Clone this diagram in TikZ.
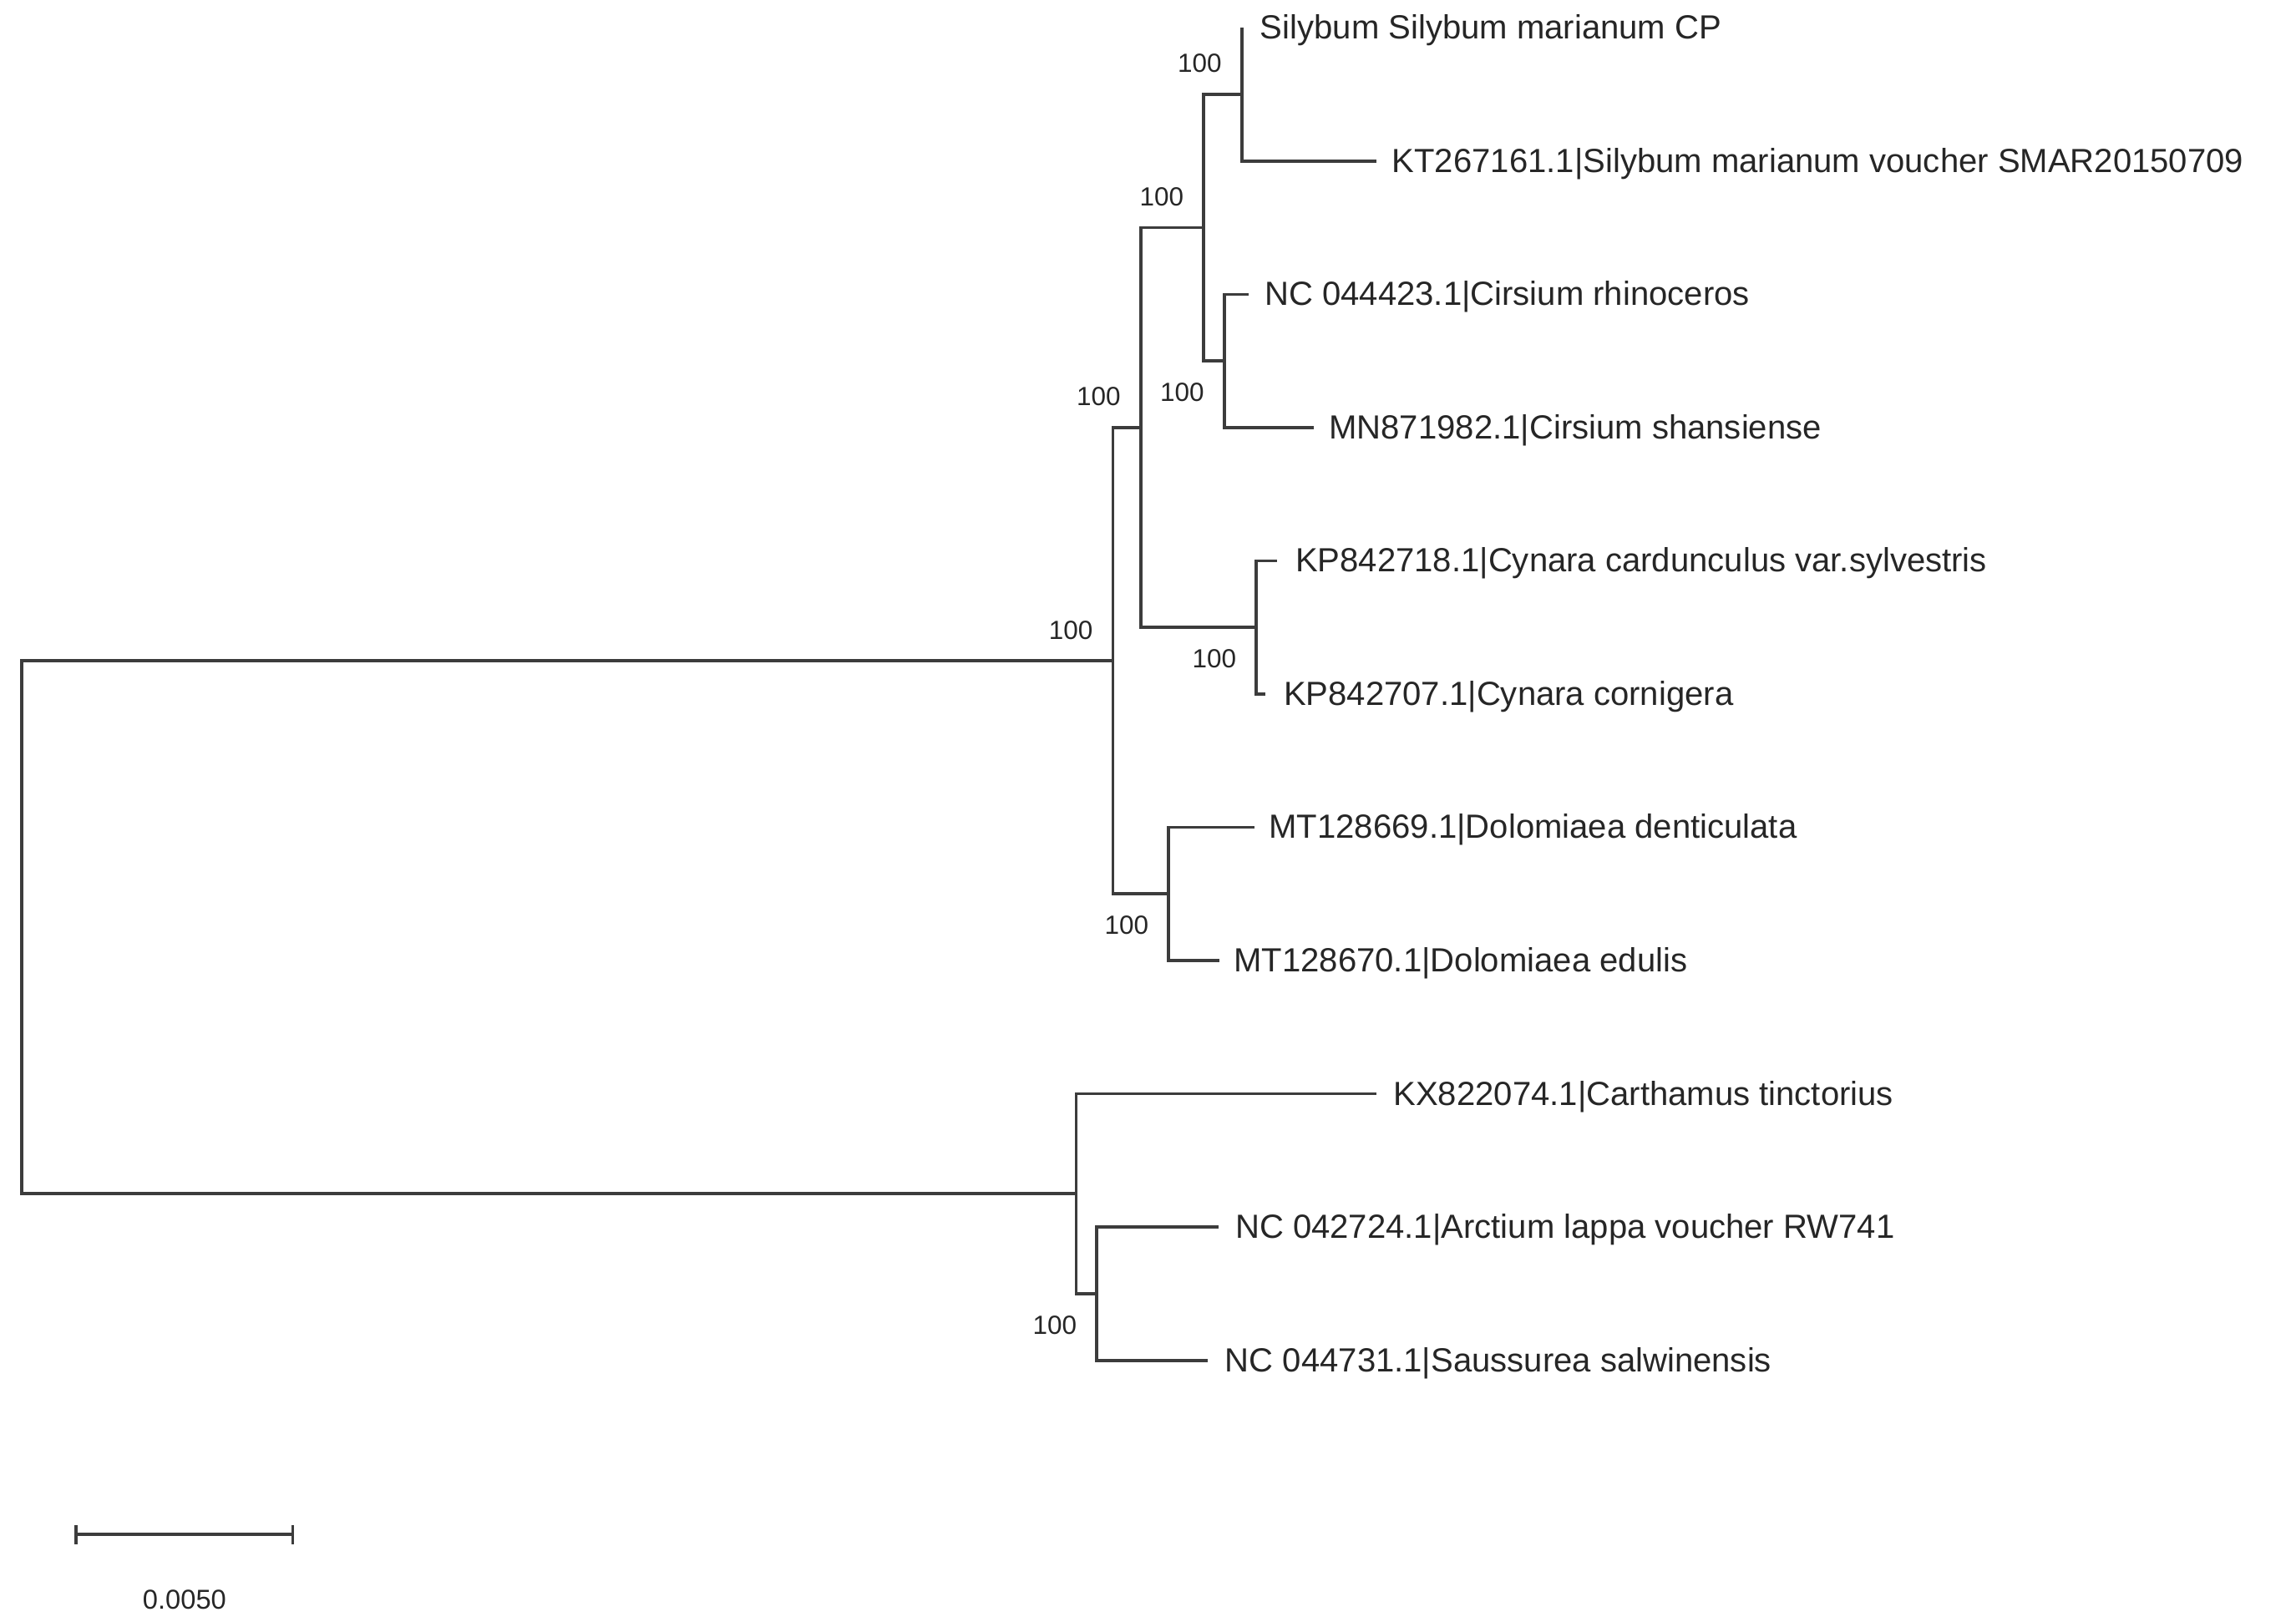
\documentclass[tikz,border=0pt]{standalone}
\usepackage{fontspec}
\setmainfont{Liberation Sans}
\usepackage{xcolor}
\usepackage{tikz}
\usetikzlibrary{positioning,arrows.meta}
\definecolor{branch}{HTML}{3C3C3C}
\definecolor{ink}{HTML}{262626}

\begin{document}
\begin{tikzpicture}[x=0.01cm,y=-0.01cm,
  br/.style={draw=branch,line width=0.6pt},
  taxon/.style={inner sep=0pt,yshift=-0.18mm,text=ink,font=\fontsize{6.5}{8}\selectfont},
  bs/.style={inner sep=0pt,text=ink,font=\fontsize{5.1}{6}\selectfont},
  scl/.style={inner sep=0pt,text=ink,font=\fontsize{5.3}{6}\selectfont}]
\useasboundingbox (0,0) rectangle (1568,1104);
% leaves
\coordinate (sCP) at (848,19);
\coordinate (sKT) at (940,110);
\coordinate (cRhi) at (853,201);
\coordinate (cSha) at (897,292);
\coordinate (cyCar) at (872,383);
\coordinate (cyCor) at (864,474);
\coordinate (dDen) at (857,565);
\coordinate (dEdu) at (833,656);
\coordinate (caTin) at (940,747);
\coordinate (arLap) at (832,838);
\coordinate (saSal) at (825,929);
% inner nodes
\coordinate (S) at (848,64.5);
\coordinate (Ci) at (836,246.5);
\coordinate (C) at (822,155.5);
\coordinate (Cy) at (858,428.5);
\coordinate (B) at (779,292);
\coordinate (D) at (798,610.5);
\coordinate (A) at (760,451.25);
\coordinate (Ar) at (749,883.5);
\coordinate (E) at (735,815.25);
\coordinate (root) at (15,633.25);
% branches
\draw[br] (root) |- (A);
\draw[br] (root) |- (E);
\draw[br] (A) |- (B);
\draw[br] (A) |- (D);
\draw[br] (B) |- (C);
\draw[br] (B) |- (Cy);
\draw[br] (C) |- (S);
\draw[br] (C) |- (Ci);
\draw[br] (S) |- (sCP);
\draw[br] (S) |- (sKT);
\draw[br] (Ci) |- (cRhi);
\draw[br] (Ci) |- (cSha);
\draw[br] (Cy) |- (cyCar);
\draw[br] (Cy) |- (cyCor);
\draw[br] (D) |- (dDen);
\draw[br] (D) |- (dEdu);
\draw[br] (E) |- (caTin);
\draw[br] (E) |- (Ar);
\draw[br] (Ar) |- (arLap);
\draw[br] (Ar) |- (saSal);
% taxa
\node[taxon,right=1.2mm of sCP] (tsCP) {Silybum Silybum marianum CP};
\node[taxon,right=1mm of sKT] (tsKT) {KT267161.1|Silybum marianum voucher SMAR20150709};
\node[taxon,right=1mm of cRhi] (tcRhi) {NC 044423.1|Cirsium rhinoceros};
\node[taxon,right=1mm of cSha] (tcSha) {MN871982.1|Cirsium shansiense};
\node[taxon,right=1.2mm of cyCar] (tcyCar) {KP842718.1|Cynara cardunculus var.sylvestris};
\node[taxon,right=1.2mm of cyCor] (tcyCor) {KP842707.1|Cynara cornigera};
\node[taxon,right=0.9mm of dDen] (tdDen) {MT128669.1|Dolomiaea denticulata};
\node[taxon,right=0.9mm of dEdu] (tdEdu) {MT128670.1|Dolomiaea edulis};
\node[taxon,right=1.1mm of caTin] (tcaTin) {KX822074.1|Carthamus tinctorius};
\node[taxon,right=1.1mm of arLap] (tarLap) {NC 042724.1|Arctium lappa voucher RW741};
\node[taxon,right=1.1mm of saSal] (tsaSal) {NC 044731.1|Saussurea salwinensis};
% bootstrap
\node[bs,above left=1.4mm and 1.3mm of S] (bS) {100};
\node[bs,above left=1.4mm and 1.3mm of C] (bC) {100};
\node[bs,above left=1.4mm and 1.3mm of B] (bB) {100};
\node[bs,above left=1.4mm and 1.3mm of A] (bA) {100};
\node[bs,below left=1.45mm and 1.3mm of Ci] (bCi) {100};
\node[bs,below left=1.45mm and 1.3mm of Cy] (bCy) {100};
\node[bs,below left=1.45mm and 1.3mm of D] (bD) {100};
\node[bs,below left=1.45mm and 1.3mm of Ar] (bAr) {100};
% scale bar
\coordinate (sbL) at (51,1048);
\coordinate (sbR) at (201,1048);
\draw[br,{Bar[width=1.3mm]}-{Bar[width=1.3mm]}] (sbL) -- (sbR) coordinate[midway] (sbM);
\node[scl,below=3.7mm of sbM] (sbLab) {0.0050};
\end{tikzpicture}
\end{document}
